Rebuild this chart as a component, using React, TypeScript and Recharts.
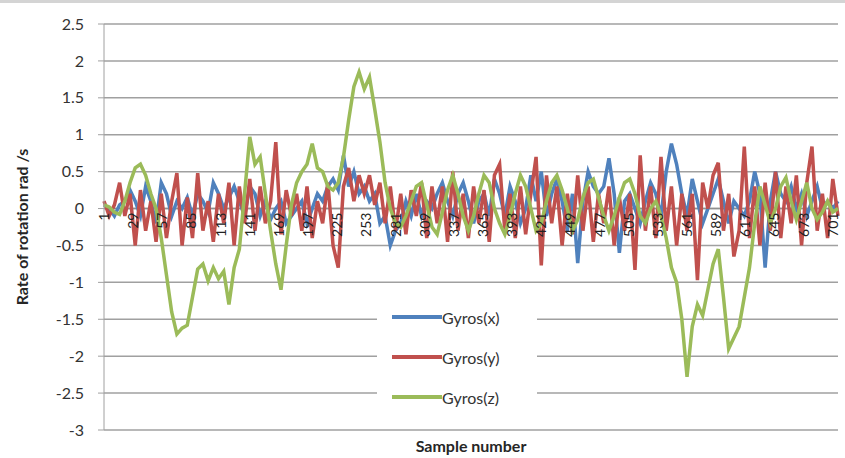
import React from 'react';
import { LineChart, Line, XAxis, YAxis, CartesianGrid, Legend, ReferenceLine } from 'recharts';

// sample numbers read every 5 samples
const samples: number[] = Array.from({ length: 142 }, (_, i) => 1 + i * 5);

const xTicks = [1, 29, 57, 85, 113, 141, 169, 197, 225, 253, 281, 309, 337, 365, 393, 421, 449, 477, 505, 533, 561, 589, 617, 645, 673, 701];
const yTicks = [-3, -2.5, -2, -1.5, -1, -0.5, 0, 0.5, 1, 1.5, 2, 2.5];

const gyrosX = [
  0.05, 0.0, -0.1, 0.05, 0.1, 0.25, 0.1, -0.1, 0.3, 0.1,
  -0.2, 0.35, 0.2, -0.1, 0.1, 0.0, 0.15, -0.1, 0.2, 0.1,
  -0.05, 0.35, 0.2, 0.0, 0.15, 0.3, 0.1, -0.1, 0.3, 0.2,
  -0.1, 0.1, -0.15, 0.0, 0.1, -0.2, -0.1, 0.0, 0.1, -0.2,
  0.0, 0.2, 0.1, 0.3, 0.4, 0.25, 0.72, 0.3, 0.5, 0.2,
  0.3, 0.1, 0.2, -0.2, -0.1, -0.5, -0.3, -0.2, 0.1, -0.1,
  0.2, -0.1, 0.1, 0.0, 0.2, 0.35, 0.1, -0.1, 0.2, 0.35,
  0.1, -0.2, 0.1, 0.2, -0.1, 0.4, 0.2, -0.1, 0.3, 0.1,
  -0.2, 0.0, 0.45, 0.1, 0.5, -0.1, 0.2, 0.4, 0.1, -0.3,
  0.2, -0.74, 0.1, 0.5, 0.3, 0.2, 0.3, 0.68, 0.2, -0.6,
  0.1, 0.2, 0.0, -0.2, 0.1, 0.35, 0.2, -0.1, 0.5, 0.88,
  0.6, 0.2, -0.1, 0.4, 0.1, -0.2, 0.0, 0.2, 0.4, 0.1,
  -0.2, 0.1, 0.0, -0.1, 0.1, 0.5, 0.2, -0.8, 0.1, 0.5,
  0.2, 0.1, 0.3, 0.0, 0.2, -0.1, 0.1, 0.3, 0.0, 0.1,
  0.0, 0.1,
];

const gyrosY = [
  0.1, -0.1, 0.05, 0.35, -0.1, 0.2, -0.5, 0.25, -0.3, 0.1,
  -0.45, 0.2, -0.4, 0.1, 0.48, -0.5, 0.15, -0.4, 0.48, -0.3,
  0.1, -0.45, 0.2, -0.2, 0.35, -0.5, 0.3, -0.2, 0.4, -0.3,
  0.3, -0.2, 0.1, 0.9, -0.35, 0.25, -0.1, 0.2, -0.3, 0.3,
  -0.4, 0.1, -0.2, 0.35, -0.5, -0.8, 0.3, 0.55, 0.1, 0.45,
  0.2, 0.45, 0.05, 0.35, -0.2, 0.3, -0.3, 0.2, -0.35, 0.25,
  -0.1, 0.35, -0.4, 0.3, -0.2, 0.3, -0.45, 0.5, -0.3, 0.2,
  -0.4, 0.3, -0.2, 0.25, -0.45, 0.45, 0.6, -0.3, 0.2, -0.4,
  0.3, -0.35, 0.2, 0.7, -0.77, 0.45, -0.2, 0.3, -0.5, 0.2,
  -0.35, 0.45, -0.3, 0.3, -0.45, 0.2, -0.2, 0.3, -0.5, 0.15,
  -0.3, 0.2, -0.83, 0.72, -0.3, 0.3, -0.4, 0.7, -0.3, 0.3,
  -0.5, 0.2, -0.3, 0.2, -0.97, 0.35, 0.0, 0.45, 0.62, -0.3,
  0.2, -0.65, -0.3, 0.84, -0.4, 0.3, -0.5, 0.35, -0.3, 0.5,
  -0.4, 0.3, -0.2, 0.45, -0.5, 0.35, 0.84, -0.3, 0.2, -0.4,
  0.4, -0.1,
];

const gyrosZ = [
  0.05, 0.02, -0.05, -0.08, 0.1, 0.35, 0.55, 0.6, 0.45, 0.2,
  0.0, -0.4, -0.9, -1.4, -1.7, -1.62, -1.58, -1.2, -0.82, -0.75,
  -0.98, -0.8, -0.95, -0.85, -1.3, -0.8, -0.55, 0.2, 0.97, 0.6,
  0.7, 0.2, -0.3, -0.75, -1.1, -0.5, 0.05, 0.35, 0.5, 0.6,
  0.88, 0.55, 0.5, 0.3, 0.25, 0.35, 0.7, 1.2, 1.65, 1.85,
  1.62, 1.78, 1.35, 0.9, 0.35, 0.0, -0.2, -0.25, -0.1, 0.1,
  0.3, 0.35, 0.05, -0.25, -0.35, -0.05, 0.25, 0.45, 0.2, -0.1,
  -0.3, -0.1, 0.2, 0.45, 0.35, 0.0, -0.2, -0.35, -0.1, 0.2,
  0.45, 0.3, 0.0, -0.3, -0.2, 0.1, 0.35, 0.45, 0.25, 0.0,
  -0.3, -0.15, 0.15, 0.35, 0.4, 0.15, -0.1, -0.3, -0.1, 0.15,
  0.35, 0.4, 0.2, -0.1, -0.2, 0.0, 0.1, -0.1, -0.4, -0.8,
  -1.0, -1.5, -2.28, -1.6, -1.3, -1.45, -1.1, -0.75, -0.55, -1.2,
  -1.9, -1.75, -1.6, -1.2, -0.8, -0.2, 0.3, 0.05, -0.2, 0.0,
  0.3, 0.42, 0.1, -0.15, 0.1, 0.35, 0.0, -0.15, -0.05, 0.1,
  -0.05, 0.0,
];

const data = samples.map((s, i) => ({ s, x: gyrosX[i], y: gyrosY[i], z: gyrosZ[i] }));

const FONT = 'Lato, "Open Sans", sans-serif';
const W = 845;
const H = 458;
const TOP = 24;
const BOTTOM = 28;
const PLOT_H = H - TOP - BOTTOM;
const Y_MIN = -3;
const Y_MAX = 2.5;
const ZERO_Y = TOP + (PLOT_H * Y_MAX) / (Y_MAX - Y_MIN);

const XTick = (props: any) => {
  const { x, payload } = props;
  return (
    <text
      transform={`translate(${x + 5},${ZERO_Y + 4}) rotate(-90)`}
      textAnchor="end"
      fontSize={14}
      fontFamily={FONT}
      fill="#222"
    >
      {payload.value}
    </text>
  );
};

const LegendBox = (props: any) => {
  const { payload } = props;
  return (
    <div style={{ background: '#fff', paddingLeft: 15, width: 145 }}>
      {(payload || []).map((p: any) => (
        <div key={p.value} style={{ display: 'flex', alignItems: 'center', height: 40 }}>
          <span style={{ display: 'inline-block', width: 50, height: 4, background: p.color }} />
          <span style={{ fontFamily: FONT, fontSize: 16, color: '#333' }}>{p.value}</span>
        </div>
      ))}
    </div>
  );
};

export default function App() {
  return (
    <div style={{ position: 'absolute', left: 0, top: 0, width: W, height: H, background: '#fff' }}>
      <div style={{ position: 'absolute', left: 0, top: 0, width: W, height: 3, background: '#d4d4d4' }} />
      <LineChart width={W} height={H} data={data} margin={{ top: TOP, right: 7, bottom: 0, left: 0 }}>
        <CartesianGrid vertical={false} stroke="#a0a0a0" strokeWidth={1.5} />
        <XAxis
          dataKey="s"
          type="number"
          domain={[1, 706]}
          ticks={xTicks}
          interval={0}
          height={BOTTOM}
          axisLine={false}
          tickLine={false}
          tick={<XTick />}
          label={{
            value: 'Sample number',
            position: 'insideBottom',
            offset: 6,
            style: { fontFamily: FONT, fontSize: 16, fontWeight: 700, fill: '#262626' },
          }}
        />
        <YAxis
          type="number"
          domain={[Y_MIN, Y_MAX]}
          ticks={yTicks}
          interval={0}
          width={104}
          stroke="#a0a0a0"
          tickSize={6}
          tickMargin={14}
          tick={{ fontFamily: FONT, fontSize: 16, fill: '#333' }}
          label={{
            value: 'Rate of rotation  rad /s',
            angle: -90,
            position: 'insideLeft',
            offset: 22,
            style: { textAnchor: 'middle', fontFamily: FONT, fontSize: 16, fontWeight: 700, fill: '#262626' },
          }}
        />
        <ReferenceLine y={0} stroke="#909090" strokeWidth={1.5} />
        <Line type="linear" dataKey="x" name="Gyros(x)" stroke="#4F81BD" strokeWidth={3.5} dot={false} isAnimationActive={false} />
        <Line type="linear" dataKey="y" name="Gyros(y)" stroke="#C0504D" strokeWidth={3.5} dot={false} isAnimationActive={false} />
        <Line type="linear" dataKey="z" name="Gyros(z)" stroke="#9BBB59" strokeWidth={3.5} dot={false} isAnimationActive={false} />
        <Legend
          layout="vertical"
          align="center"
          verticalAlign="middle"
          content={<LegendBox />}
          wrapperStyle={{ left: 377, top: 297, width: 160 }}
        />
      </LineChart>
    </div>
  );
}
